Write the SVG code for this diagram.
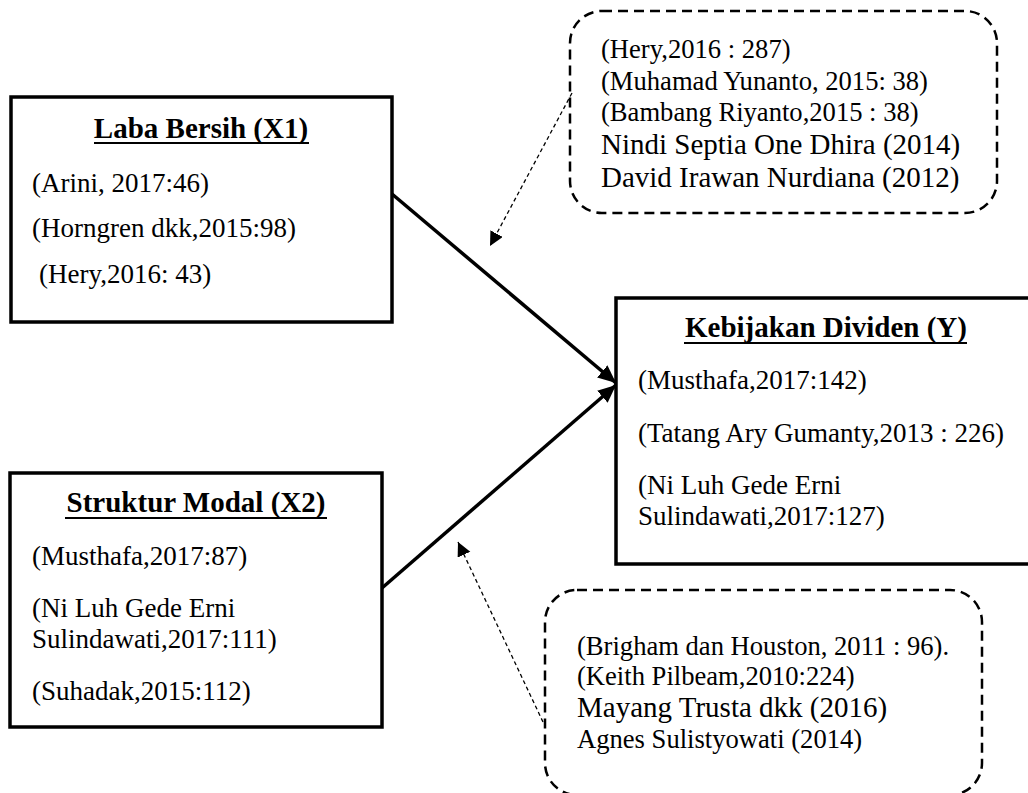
<svg xmlns="http://www.w3.org/2000/svg" width="1028" height="793" viewBox="0 0 1028 793">
<style>
  text { font-family: "Liberation Serif", "Times New Roman", serif; fill: #000; }
  .t { font-size: 29px; font-weight: bold; text-anchor: middle; }
  .u { stroke: #000; stroke-width: 2; }
  .b { font-size: 27px; }
  .s { font-size: 26.6px; }
  .l { font-size: 29px; }
  .box { fill: #fff; stroke: #000; stroke-width: 3.5; }
  .dbox { fill: none; stroke: #000; stroke-width: 2.5; stroke-dasharray: 10 6; }
  .main { stroke: #000; stroke-width: 3.5; fill: none; }
  .dot { stroke: #000; stroke-width: 1.3; stroke-dasharray: 4 3; fill: none; }
</style>
<defs>
  <marker id="ah" markerUnits="userSpaceOnUse" markerWidth="20" markerHeight="18" refX="18" refY="8" orient="auto">
    <path d="M0,0 L18,8 L0,16 Z" fill="#000"/>
  </marker>
  <marker id="ad" markerUnits="userSpaceOnUse" markerWidth="16" markerHeight="16" refX="14" refY="7" orient="auto">
    <path d="M0,0 L14,7 L0,14 Z" fill="#000"/>
  </marker>
</defs>
<rect width="1028" height="793" fill="#fff"/>

<g id="connectors">
  <line class="main" x1="392" y1="194" x2="616" y2="383" marker-end="url(#ah)"/>
  <line class="main" x1="382" y1="588" x2="616" y2="385" marker-end="url(#ah)"/>
  <line class="dot" x1="572" y1="93" x2="490" y2="246" marker-end="url(#ad)"/>
  <line class="dot" x1="543" y1="722" x2="458" y2="542" marker-end="url(#ad)"/>
</g>

<g id="laba-bersih">
  <rect class="box" x="11" y="97" width="381" height="225"/>
  <text class="t" x="201" y="138">Laba Bersih (X1)</text>
  <line class="u" x1="94" y1="143" x2="309" y2="143"/>
  <text class="b" x="32" y="192">(Arini, 2017:46)</text>
  <text class="b" x="32" y="237">(Horngren dkk,2015:98)</text>
  <text class="b" x="39" y="283">(Hery,2016: 43)</text>
</g>

<g id="struktur-modal">
  <rect class="box" x="10" y="473" width="372" height="254"/>
  <text class="t" x="196" y="512">Struktur Modal (X2)</text>
  <line class="u" x1="65" y1="518" x2="327" y2="518"/>
  <text class="b" x="32" y="565">(Musthafa,2017:87)</text>
  <text class="b" x="32" y="617">(Ni Luh Gede Erni</text>
  <text class="b" x="32" y="648">Sulindawati,2017:111)</text>
  <text class="b" x="32" y="700">(Suhadak,2015:112)</text>
</g>

<g id="kebijakan-dividen">
  <rect class="box" x="616" y="298" width="430" height="266"/>
  <text class="t" x="826" y="337">Kebijakan Dividen (Y)</text>
  <line class="u" x1="684" y1="343" x2="967" y2="343"/>
  <text class="b" x="638" y="389">(Musthafa,2017:142)</text>
  <text class="b" x="638" y="442">(Tatang Ary Gumanty,2013 : 226)</text>
  <text class="b" x="638" y="494">(Ni Luh Gede Erni</text>
  <text class="b" x="638" y="525">Sulindawati,2017:127)</text>
</g>

<g id="ref-top">
  <rect class="dbox" x="570" y="11" width="427" height="202" rx="32"/>
  <text class="s" x="601" y="58">(Hery,2016 : 287)</text>
  <text class="s" x="601" y="90">(Muhamad Yunanto, 2015: 38)</text>
  <text class="s" x="601" y="121">(Bambang Riyanto,2015 : 38)</text>
  <text class="l" x="601" y="154">Nindi Septia One Dhira (2014)</text>
  <text class="l" x="601" y="187">David Irawan Nurdiana (2012)</text>
</g>

<g id="ref-bottom">
  <rect class="dbox" x="545" y="590" width="437" height="205" rx="32"/>
  <text class="s" x="577" y="655">(Brigham dan Houston, 2011 : 96).</text>
  <text class="s" x="577" y="685">(Keith Pilbeam,2010:224)</text>
  <text class="l" x="577" y="717">Mayang Trusta dkk (2016)</text>
  <text class="s" x="577" y="748">Agnes Sulistyowati (2014)</text>
</g>
</svg>
